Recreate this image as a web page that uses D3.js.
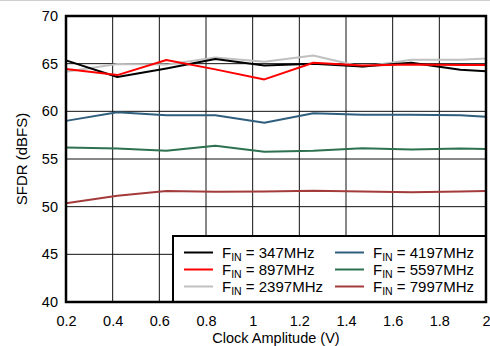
<!DOCTYPE html>
<html><head><meta charset="utf-8">
<script src="https://cdn.jsdelivr.net/npm/d3@7"></script>
<style>
html,body{margin:0;padding:0;background:#fff;}
svg{display:block;font-family:"Liberation Sans",Arial,Helvetica,sans-serif;}
</style></head>
<body>
<script>
const xValues = [0.2, 0.42, 0.63, 0.84, 1.05, 1.26, 1.47, 1.68, 1.89, 2.0];
const fin347  = [65.35, 63.6, 64.5, 65.5, 64.8, 65.0, 64.7, 65.1, 64.35, 64.2];
const fin897  = [64.45, 63.8, 65.38, 64.4, 63.35, 65.1, 64.8, 64.9, 64.85, 64.86];
const fin2397 = [64.15, 64.97, 64.9, 65.65, 65.2, 65.85, 64.65, 65.4, 65.4, 65.55];
const fin4197 = [59.0, 59.9, 59.6, 59.6, 58.8, 59.8, 59.65, 59.65, 59.6, 59.43];
const fin5597 = [56.2, 56.1, 55.87, 56.4, 55.77, 55.87, 56.12, 56.0, 56.1, 56.05];
const fin7997 = [50.35, 51.15, 51.64, 51.57, 51.6, 51.68, 51.6, 51.5, 51.6, 51.65];
const seriesNames = ["347MHz", "897MHz", "2397MHz", "4197MHz", "5597MHz", "7997MHz"];
const seriesColors = ["#000000", "#ff0000", "#c0c0c0", "#2f5f7d", "#2d7150", "#a33b3b"];
const xTicks = [0.2, 0.4, 0.6, 0.8, 1, 1.2, 1.4, 1.6, 1.8, 2];
const yTicks = [40, 45, 50, 55, 60, 65, 70];
const seriesValues = [fin347, fin897, fin2397, fin4197, fin5597, fin7997];

const W = 490, H = 346;
const m = {left: 66, right: 4, top: 16, bottom: 44};
const FS = 15, TFS = 14.5;
const svg = d3.select("body").append("svg").attr("width", W).attr("height", H);
svg.append("line").attr("x1",0).attr("x2",W).attr("y1",0.5).attr("y2",0.5).attr("stroke","#cfcfcf");

const x = d3.scaleLinear().domain([0.2, 2]).range([m.left, W - m.right]);
const y = d3.scaleLinear().domain([40, 70]).range([H - m.bottom, m.top]);

// gridlines
const g = svg.append("g");
g.selectAll(".vg").data(xTicks.slice(1, -1)).join("line")
  .attr("x1", d => x(d)).attr("x2", d => x(d)).attr("y1", y(40)).attr("y2", y(70))
  .attr("stroke", "#111").attr("stroke-width", 1);
g.selectAll(".hg").data(yTicks.slice(1, -1)).join("line")
  .attr("x1", x(0.2)).attr("x2", x(2)).attr("y1", d => y(d)).attr("y2", d => y(d))
  .attr("stroke", "#111").attr("stroke-width", 1);

// axes labels via d3 axes
const xAxis = svg.append("g").attr("transform", `translate(0,${y(40)})`)
  .call(d3.axisBottom(x).tickValues(xTicks).tickSize(0).tickPadding(0).tickFormat(d3.format("")));
xAxis.select(".domain").remove();
xAxis.selectAll("text").attr("font-size", TFS).attr("fill", "#000").attr("dy", null).attr("y", 23.5)
  .attr("font-family", "Liberation Sans, Arial, sans-serif");

const yAxis = svg.append("g").attr("transform", `translate(${x(0.2)},0)`)
  .call(d3.axisLeft(y).tickValues(yTicks).tickSize(0).tickPadding(8));
yAxis.select(".domain").remove();
yAxis.selectAll("text").attr("font-size", TFS).attr("fill", "#000").attr("font-family", "Liberation Sans, Arial, sans-serif");

// lines
const line = d3.line().x((d, i) => x(xValues[i])).y(d => y(d));
const order = [5, 4, 3, 2, 0, 1];
order.forEach(k => {
  svg.append("path").datum(seriesValues[k]).attr("d", line)
    .attr("fill", "none").attr("stroke", seriesColors[k]).attr("stroke-width", 2)
    .attr("stroke-linejoin", "round");
});

// legend
const lg = svg.append("g");
const lx0 = 173, ly0 = 236, lx1 = 486, ly1 = 302;
lg.append("rect").attr("x", lx0).attr("y", ly0).attr("width", lx1 - lx0).attr("height", ly1 - ly0)
  .attr("fill", "#fff").attr("stroke", "#000").attr("stroke-width", 2);
seriesNames.forEach((name, i) => {
  const col = Math.floor(i / 3), row = i % 3;
  const bx = col === 0 ? 184 : 335;
  const by = 252.5 + row * 17;
  lg.append("line").attr("x1", bx).attr("x2", bx + 29).attr("y1", by).attr("y2", by)
    .attr("stroke", seriesColors[i]).attr("stroke-width", 2);
  const t = lg.append("text").attr("x", bx + 38).attr("y", by + 5.5).attr("font-size", FS).attr("fill", "#000");
  t.append("tspan").text("F");
  t.append("tspan").attr("font-size", 10.5).attr("dy", 3).text("IN");
  t.append("tspan").attr("dy", -3).text(" = " + name);
});

// frame
svg.append("rect").attr("x", x(0.2)).attr("y", y(70)).attr("width", x(2) - x(0.2)).attr("height", y(40) - y(70))
  .attr("fill", "none").attr("stroke", "#000").attr("stroke-width", 2.5);

// titles
svg.append("text").attr("x", (x(0.2) + x(2)) / 2).attr("y", 343).attr("text-anchor", "middle")
  .attr("font-size", TFS).text("Clock Amplitude (V)");
svg.append("text").attr("transform", `translate(27,${(y(40) + y(70)) / 2}) rotate(-90)`)
  .attr("text-anchor", "middle").attr("font-size", FS).text("SFDR (dBFS)");
</script>
</body></html>
